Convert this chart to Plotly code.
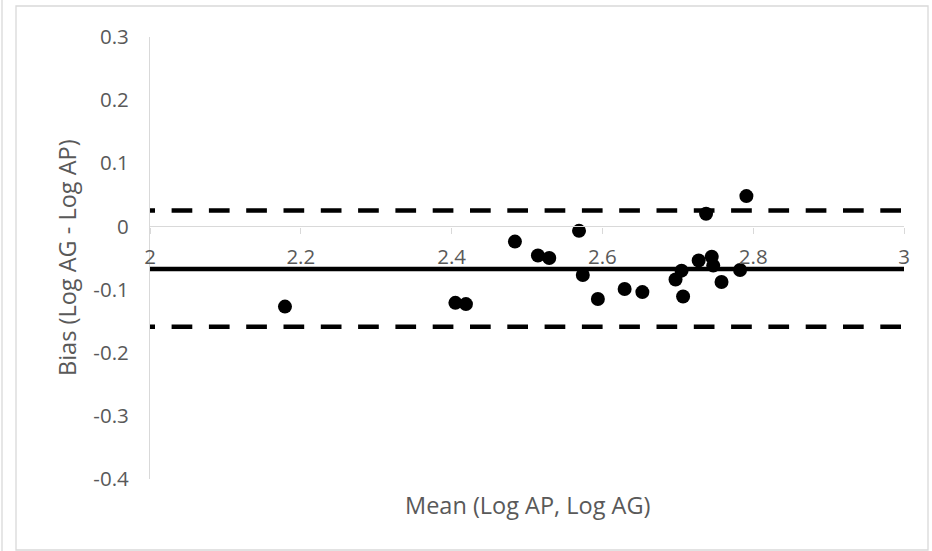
import plotly.graph_objects as go

# ---- data ----
mean_x = [2.179, 2.405, 2.419, 2.484, 2.5145, 2.5295, 2.569, 2.574, 2.594, 2.6295,
          2.653, 2.697, 2.705, 2.707, 2.7277, 2.7375, 2.745, 2.747, 2.758, 2.7826, 2.791]
bias_y = [-0.127, -0.121, -0.123, -0.024, -0.046, -0.050, -0.007, -0.077, -0.115, -0.099,
          -0.104, -0.084, -0.070, -0.111, -0.054, 0.020, -0.048, -0.062, -0.088, -0.069, 0.048]
mean_bias = -0.0675
upper_loa = 0.0254
lower_loa = -0.159
x_range = [2, 3]
y_range = [-0.4, 0.3]
x_tickvals = [2, 2.2, 2.4, 2.6, 2.8, 3]
x_ticktext = ["2", "2.2", "2.4", "2.6", "2.8", "3"]
y_tickvals = [0.3, 0.2, 0.1, 0, -0.1, -0.2, -0.3, -0.4]
y_ticktext = ["0.3", "0.2", "0.1", "0", "-0.1", "-0.2", "-0.3", "-0.4"]
x_title = "Mean (Log AP, Log AG)"
y_title = "Bias (Log AG - Log AP)"

# ---- layout geometry (pixels) ----
W, H = 932, 551
L, R, T, B = 150, 904, 37, 479
pw, ph = R - L, B - T


def px_x(p):
    return (p - L) / pw


def px_y(p):
    return (B - p) / ph


FONT = "Open Sans"
GRAY = "#595959"
AXIS = "#d9d9d9"
FS_TICK = 20.5
FS_TITLE = 23.5

dash_pattern = "5px,16.6px," + ",".join(["20.7px,16.6px"] * 20)

fig = go.Figure()
fig.add_trace(go.Scatter(x=x_range, y=[upper_loa, upper_loa], mode="lines",
                         line=dict(color="black", width=4.5, dash=dash_pattern),
                         showlegend=False, hoverinfo="skip"))
fig.add_trace(go.Scatter(x=x_range, y=[lower_loa, lower_loa], mode="lines",
                         line=dict(color="black", width=4.5, dash=dash_pattern),
                         showlegend=False, hoverinfo="skip"))
fig.add_trace(go.Scatter(x=x_range, y=[mean_bias, mean_bias], mode="lines",
                         line=dict(color="black", width=4.5),
                         showlegend=False, hoverinfo="skip"))
fig.add_trace(go.Scatter(x=mean_x, y=bias_y, mode="markers",
                         marker=dict(color="black", size=14),
                         showlegend=False))

zero_pos = (0 - y_range[0]) / (y_range[1] - y_range[0])

fig.update_layout(
    width=W, height=H,
    margin=dict(l=L, r=W - R, t=T, b=H - B, autoexpand=False),
    paper_bgcolor="white", plot_bgcolor="white",
    font=dict(family=FONT, size=FS_TICK, color=GRAY),
    xaxis=dict(range=x_range, anchor="free", position=zero_pos,
               showline=True, linecolor=AXIS, linewidth=1.3,
               ticks="outside", ticklen=6, tickcolor=AXIS, tickwidth=1.3,
               tickvals=x_tickvals, ticktext=x_ticktext,
               ticklabelstandoff=6,
               showgrid=False, zeroline=False,
               tickfont=dict(family=FONT, size=FS_TICK, color=GRAY)),
    yaxis=dict(range=y_range, domain=[0, 1],
               showline=True, linecolor=AXIS, linewidth=1.3,
               ticks="", tickvals=y_tickvals, ticktext=y_ticktext,
               ticklabelstandoff=16,
               showgrid=False, zeroline=False,
               tickfont=dict(family=FONT, size=FS_TICK, color=GRAY)),
    annotations=[
        dict(text=x_title, xref="paper", yref="paper", x=0.5, y=px_y(505),
             xanchor="center", yanchor="middle", showarrow=False,
             font=dict(family=FONT, size=FS_TITLE, color=GRAY)),
        dict(text=y_title, xref="paper", yref="paper", x=px_x(67), y=0.5,
             xanchor="center", yanchor="middle", showarrow=False, textangle=-90,
             font=dict(family=FONT, size=FS_TITLE, color=GRAY)),
    ],
    shapes=[
        dict(type="rect", xref="paper", yref="paper",
             x0=px_x(16), x1=px_x(928), y0=px_y(550), y1=px_y(6),
             line=dict(color=AXIS, width=1.3), layer="below"),
        dict(type="line", xref="paper", yref="paper",
             x0=px_x(2), x1=px_x(2), y0=px_y(551), y1=px_y(0),
             line=dict(color=AXIS, width=1.3), layer="below"),
    ],
)

fig.write_html("out.html", config={"displayModeBar": False},
               post_script="document.body.style.margin='0';")
